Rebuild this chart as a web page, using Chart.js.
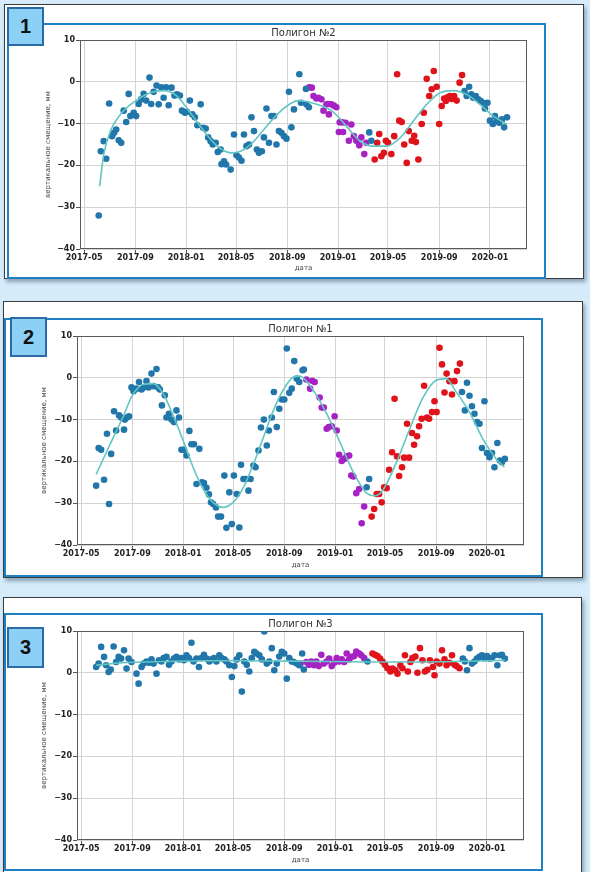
<!DOCTYPE html>
<html lang="ru">
<head>
<meta charset="utf-8">
<title>Полигоны</title>
<script src="https://cdn.jsdelivr.net/npm/chart.js@4.4.0/dist/chart.umd.min.js"></script>
<style>
  html, body { margin: 0; padding: 0; }
  body { width: 590px; height: 872px; position: relative; overflow: hidden;
         background: #d7ecfa; font-family: 'Liberation Sans', Arial, sans-serif; }
  .sheet { position: absolute; background: #fff; border: 1px solid #3c3c3c;
           box-shadow: 2px 3px 4px rgba(40,70,100,0.45); box-sizing: border-box; }
  .frame { position: absolute; border: 2px solid #1f80c4; box-sizing: border-box; }
  .badge { position: absolute; box-sizing: border-box; background: #8dd0f6;
           border: 2px solid #2a6aa6; color: #111; font-weight: bold; font-size: 20px;
           display: flex; align-items: center; justify-content: center; }
  canvas { position: absolute; }
</style>
</head>
<body>

<div class="sheet" style="left:4px;top:4px;width:580px;height:275px"></div>
<div class="frame" style="left:7px;top:23px;width:539px;height:256px"></div>
<canvas id="c1" width="534" height="251" style="left:9px;top:25px"></canvas>
<div class="badge" style="left:7px;top:7px;width:37px;height:39px">1</div>

<div class="sheet" style="left:3px;top:301px;width:580px;height:277px"></div>
<div class="frame" style="left:4px;top:318px;width:539px;height:259px"></div>
<canvas id="c2" width="534" height="254" style="left:7px;top:320px"></canvas>
<div class="badge" style="left:10px;top:317px;width:37px;height:40px">2</div>

<div class="sheet" style="left:3px;top:597px;width:579px;height:285px"></div>
<div class="frame" style="left:4px;top:613px;width:539px;height:258px"></div>
<canvas id="c3" width="534" height="254" style="left:7px;top:615px"></canvas>
<div class="badge" style="left:7px;top:627px;width:37px;height:41px">3</div>

<script>
// x values are days since 2017-05-01
const TICK_DAYS   = [0, 123, 245, 365, 488, 610, 730, 853, 975];
const TICK_LABELS = ['2017-05', '2017-09', '2018-01', '2018-05', '2018-09', '2019-01', '2019-05', '2019-09', '2020-01'];

// ── Полигон №2 (panel 1) ─────────────────────────────────────────────────────
const poly2BlueX = [35,40,47,53,60,67,72,77,83,89,95,101,107,111,119,125,131,137,143,149,157,161,167,174,179,185,191,197,203,210,217,223,230,235,242,247,254,260,266,272,280,286,292,298,304,309,316,321,328,330,336,341,352,360,366,372,378,384,390,396,402,408,415,420,427,432,438,444,450,456,462,468,474,480,486,492,498,504,517,521,533,534,540,685,690,914,919,925,930,935,941,947,953,958,963,969,975,982,987,991,997,1004,1009,1016];
const poly2BlueY = [-32,-16.6,-14.2,-18.4,-5.2,-13,-12.2,-11.4,-14,-14.6,-6.9,-9.6,-2.9,-8.2,-7.4,-8.2,-5.3,-4.2,-2.9,-4.5,1,-5.3,-2.4,-0.9,-5.4,-1.3,-3.8,-1.3,-5.6,-1.4,-3.3,-3,-3.3,-6.9,-7.4,-7.2,-4.5,-7.8,-8.5,-10.4,-5.4,-11,-11.2,-13.3,-14.2,-15,-14.6,-16.8,-16.2,-19.7,-19,-19.8,-21,-12.6,-17.6,-18.1,-18.9,-12.6,-15.4,-15,-8.5,-11.8,-16.2,-17,-16.6,-13.3,-6.4,-14.6,-8.2,-8.2,-15,-11.8,-12.2,-13,-13.6,-2.4,-10.9,-6.6,1.8,-5,-1.7,-5.4,-6.1,-12.1,-14.1,-2.2,-3.4,-1.2,-3,-3.8,-3.4,-4.2,-4.6,-5,-6.4,-5,-9.3,-10.1,-8.2,-9.3,-9.8,-9,-10.9,-8.5];
const poly2PurpleX = [541,547,551,558,563,570,575,582,586,588,594,600,606,612,614,620,622,628,636,642,648,654,661,666,673,678];
const poly2PurpleY = [-1.3,-1.4,-3.4,-4,-3.8,-4.2,-6.9,-5.4,-5.3,-7.8,-5.4,-5.7,-6.1,-12,-9.7,-9.7,-12,-9.8,-14.1,-10.2,-13,-14.1,-15.2,-13.3,-17.3,-14.6];
const poly2RedX = [698,704,709,714,720,725,730,738,745,752,757,763,769,775,780,787,793,797,803,811,816,823,829,835,840,847,853,859,865,869,873,879,883,889,895,902,908];
const poly2RedY = [-18.6,-14.6,-12.5,-17.8,-17,-14.1,-14.6,-17.3,-13,1.8,-9.3,-9.6,-15,-19.4,-11.8,-14.1,-12.9,-14.4,-18.6,-10.1,-7.4,0.7,-3.4,-1.8,2.6,-1.2,-10.1,-5.8,-4,-4.6,-3.7,-3.4,-4.1,-3.4,-4.5,-0.2,1.6];
const poly2FitX = [37,47,63,87,123,159,191,223,255,288,320,352,376,400,432,464,496,515,534,566,598,630,662,694,726,759,791,823,855,887,919,951,983,1016];
const poly2FitY = [-25,-17.4,-11.8,-7.8,-4.6,-2.6,-2.1,-3.4,-7.4,-11.8,-15.4,-17,-16.6,-15,-11.4,-7.8,-5.2,-4.5,-4.7,-5.6,-7.2,-10.6,-14.1,-15.4,-15.4,-13.4,-9.4,-5.4,-2.6,-2.1,-3,-5.4,-8.2,-10.2];

// ── Полигон №1 (panel 2) ─────────────────────────────────────────────────────
const poly1BlueX = [36,42,48,55,62,67,72,79,84,91,96,103,105,110,115,121,126,133,139,145,150,157,162,169,174,181,185,189,194,201,205,211,217,223,229,235,241,247,253,260,265,271,277,284,290,295,301,307,312,317,324,329,336,344,349,356,362,367,374,380,384,390,396,402,407,414,419,426,432,439,446,451,458,463,470,476,482,488,494,500,506,512,518,524,532,535,686,692,915,922,927,933,939,945,951,957,963,969,975,981,987,993,1000,1006,1011,1018];
const poly1BlueY = [-25.8,-16.8,-17.2,-24.4,-13.4,-30.2,-18.2,-8,-12.6,-9,-9.5,-12.4,-10,-9.5,-9.2,-2.3,-3.2,-2.6,-1,-2.8,-2.3,-0.8,-2.3,1,-2,2.1,-2.3,-2.8,-6.6,-4.2,-9.5,-8.6,-10,-10.6,-7.8,-9.5,-17.2,-17.2,-18.6,-12.7,-15.9,-15.9,-25.4,-17,-25,-25.2,-26.3,-27.9,-29.8,-30.2,-31,-33.2,-33.2,-23.4,-35.9,-27.4,-35,-23.4,-27.8,-35.8,-20.8,-24.2,-24.2,-27,-24.2,-21,-21.4,-17.4,-11.9,-10,-16.2,-12.6,-9.5,-3.4,-11.8,-7.4,-5.2,-5.2,7,-3.6,-2.6,4,-0.2,-1,1.8,2,-26.2,-24.2,-3.4,-7.8,-1.2,-4.3,-6.8,-8.6,-10.6,-11,-16.8,-5.6,-18,-19,-18,-21.4,-15.6,-19.8,-20.2,-19.4];
const poly1PurpleX = [541,550,555,561,573,578,583,590,595,602,609,614,620,626,632,638,644,649,654,661,668,674,680];
const poly1PurpleY = [-0.4,-2.6,-0.7,-1,-4.7,-7.1,-7.1,-12.2,-11.8,-11.6,-9.2,-12.6,-18.4,-19.9,-19.4,-18.8,-18.6,-23.4,-23.6,-27.6,-26.6,-34.8,-30.8];
const poly1RedX = [698,704,710,716,722,728,734,740,747,753,759,764,771,776,783,788,795,800,807,812,818,824,831,836,843,849,854,861,867,873,878,885,891,897,903,910];
const poly1RedY = [-33.2,-31.4,-27.8,-27.8,-29.8,-26.2,-26.4,-22,-17.8,-5,-18.8,-23.5,-21.4,-19.1,-11,-19.1,-13.2,-16,-14,-11.6,-9.8,-1.9,-9.5,-9.8,-8.2,-5.6,-8.2,7.2,3.2,-3.5,1,-0.8,-4,-0.8,1.6,3.4];
const poly1FitX = [36,68,100,123,149,173,197,221,245,269,293,317,341,365,390,414,438,462,486,510,525,555,588,620,652,684,704,724,756,788,820,853,877,901,933,965,997,1017];
const poly1FitY = [-23.1,-16.2,-9.5,-4.2,-1.6,-1.4,-3.8,-9,-15,-21.4,-26.6,-29.8,-31,-29.8,-26.2,-20.6,-14.2,-7.8,-2.8,0.2,0.4,-2.6,-8.2,-15,-22.2,-27.4,-28.2,-27,-20.6,-12.6,-5,-0.6,-0.2,-3.4,-8.2,-14.6,-19.4,-21.4];

// ── Полигон №3 (panel 3) ─────────────────────────────────────────────────────
const poly3BlueX = [36,42,48,55,60,66,71,78,84,90,96,103,109,114,121,133,138,145,150,157,163,169,174,181,187,193,198,205,211,217,223,229,235,241,247,253,259,265,270,277,283,289,295,301,308,313,319,325,332,337,344,349,356,362,368,374,380,386,392,398,404,410,416,421,428,434,440,446,452,458,464,470,476,482,488,494,500,506,511,518,524,531,535,688,917,922,927,933,939,945,951,957,963,969,975,981,987,993,1000,1006,1011,1018];
const poly3BlueY = [1.4,2.2,6.2,3.8,1.8,0.2,0.8,6.3,2.6,3.8,3.4,5.4,1,3.4,2.6,-0.2,-2.6,1.4,2.2,2.7,2.4,3.2,2.2,-0.2,3,2.7,3.5,3.8,1.9,2.7,3.4,3.8,3.2,3.5,3,4.2,3.5,7.2,2.7,3.4,1.4,3.5,4.3,3.4,2.7,3.2,3.5,2.7,4.2,3.5,3.2,2.7,1.8,-1,1.6,3.2,4.2,-4.5,2.7,1.9,0.3,3.5,5,4.6,4.2,3.2,9.9,2.2,2.7,5.9,0.6,2.2,3.9,5,4.6,-1.4,3.5,2.7,2.6,2.2,1.8,4.6,0.8,2.7,3.4,2.7,0.6,5.9,2.2,2.7,3.4,3.8,4.2,3.5,4,3.4,3.5,4.2,1.8,4.2,4.3,3.4];
const poly3PurpleX = [527,541,547,553,559,565,571,577,583,590,596,602,608,614,620,626,632,638,644,649,656,661,668,673,680];
const poly3PurpleY = [2.2,2.6,1.9,2.7,1.8,2.7,1.6,4.3,2.2,2.7,3.4,1.6,2.4,3.5,2.7,3.2,2.6,4.6,3.2,3.8,4,5.1,4.6,4.2,3.5];
const poly3RedX = [700,706,712,718,724,730,736,743,748,755,760,767,772,778,785,791,796,803,808,814,820,826,832,838,845,849,854,861,867,873,878,885,891,897,902,909];
const poly3RedY = [4.6,4.3,4,3.4,2.7,1.9,1.1,0.3,1,0.6,-0.2,1.8,1.1,4.2,0.3,2.6,3.5,3.9,0,5.9,3,0.3,0.7,3,1.4,-0.6,2.7,2.2,5.4,3.2,1.8,2.4,4.2,1.9,1.6,1.1];
const poly3FitX = [36,100,200,300,400,500,600,700,800,900,1018];
const poly3FitY = [1.8,2.4,2.7,2.9,2.9,2.8,2.7,2.6,2.6,2.7,3.0];

// ── STYLE ─────────────────────────────────────────────────────────────────────
const BLUE = '#2176aa', PURPLE = '#a622c4', RED = '#e0121a', FIT = '#62c6c2';
Chart.defaults.font.family = "'DejaVu Sans', sans-serif";
Chart.defaults.color = '#222';

const zip = (xs, ys) => xs.map((x, i) => ({ x, y: ys[i] }));

// full axes box like matplotlib spines
const axesBox = {
  id: 'axesBox',
  beforeDatasetsDraw(chart) {
    const { ctx, chartArea: a } = chart;
    ctx.save();
    ctx.strokeStyle = '#5a5a5a';
    ctx.lineWidth = 1;
    ctx.strokeRect(Math.round(a.left) + 0.5, Math.round(a.top) + 0.5, Math.round(a.width) - 1, Math.round(a.height) - 1);
    ctx.restore();
  }
};

function dots(xs, ys, color) {
  return {
    type: 'scatter', data: zip(xs, ys), order: 1,
    backgroundColor: color, borderColor: color, borderWidth: 0,
    pointRadius: 3.3, pointHoverRadius: 3.3
  };
}

function buildChart(id, title, s, geo) {
  new Chart(document.getElementById(id), {
    type: 'scatter',
    data: {
      datasets: [
        dots(s.blueX, s.blueY, BLUE),
        dots(s.purpleX, s.purpleY, PURPLE),
        dots(s.redX, s.redY, RED),
        { type: 'line', data: zip(s.fitX, s.fitY), order: 0, borderColor: FIT,
          borderWidth: 1.6, pointRadius: 0, tension: 0.4, cubicInterpolationMode: 'monotone', fill: false }
      ]
    },
    options: {
      responsive: false, animation: false, events: [],
      layout: { padding: { left: 0, right: geo.right, top: 0, bottom: 0 } },
      plugins: {
        legend: { display: false }, tooltip: { enabled: false },
        title: { display: true, text: title, fullSize: false, color: '#333',
                 font: { size: 10, weight: 'normal' }, padding: { top: geo.titleTop, bottom: 1 } }
      },
      scales: {
        x: {
          type: 'linear', min: -10, max: 1064,
          afterBuildTicks: sc => { sc.ticks = TICK_DAYS.map(v => ({ value: v })); },
          afterFit: sc => { sc.height = geo.xH; },
          ticks: { autoSkip: false, maxRotation: 0, padding: 0, color: '#222',
                   font: { size: 8, weight: 'bold' },
                   callback: v => TICK_LABELS[TICK_DAYS.indexOf(v)] },
          grid: { color: '#d4d4d4', tickColor: '#555', tickLength: 4 },
          border: { display: false },
          title: { display: true, text: 'дата', color: '#444', font: { size: 7 },
                   padding: { top: 0, bottom: geo.xTitleBottom } }
        },
        y: {
          min: -40, max: 10,
          afterFit: sc => { sc.width = geo.yW; },
          ticks: { stepSize: 10, padding: 1, color: '#222', font: { size: 8, weight: 'bold' },
                   callback: v => String(v).replace('-', '\u2212') },
          grid: { color: '#d4d4d4', tickColor: '#555', tickLength: 4 },
          border: { display: false },
          title: { display: true, text: 'вертикальное смещение, мм', color: '#444', font: { size: 7 },
                   padding: { top: geo.yTitleTop, bottom: 0 } }
        }
      }
    },
    plugins: [axesBox]
  });
}

// ── INIT ──────────────────────────────────────────────────────────────────────
buildChart('c1', 'Полигон №2', {
  blueX: poly2BlueX, blueY: poly2BlueY, purpleX: poly2PurpleX, purpleY: poly2PurpleY,
  redX: poly2RedX, redY: poly2RedY, fitX: poly2FitX, fitY: poly2FitY
}, { yW: 71, right: 16, xH: 27, titleTop: 2, xTitleBottom: 4, yTitleTop: 35 });

buildChart('c2', 'Полигон №1', {
  blueX: poly1BlueX, blueY: poly1BlueY, purpleX: poly1PurpleX, purpleY: poly1PurpleY,
  redX: poly1RedX, redY: poly1RedY, fitX: poly1FitX, fitY: poly1FitY
}, { yW: 70, right: 17, xH: 29, titleTop: 3, xTitleBottom: 5, yTitleTop: 33 });

buildChart('c3', 'Полигон №3', {
  blueX: poly3BlueX, blueY: poly3BlueY, purpleX: poly3PurpleX, purpleY: poly3PurpleY,
  redX: poly3RedX, redY: poly3RedY, fitX: poly3FitX, fitY: poly3FitY
}, { yW: 70, right: 17, xH: 29, titleTop: 3, xTitleBottom: 5, yTitleTop: 33 });
</script>
</body>
</html>
